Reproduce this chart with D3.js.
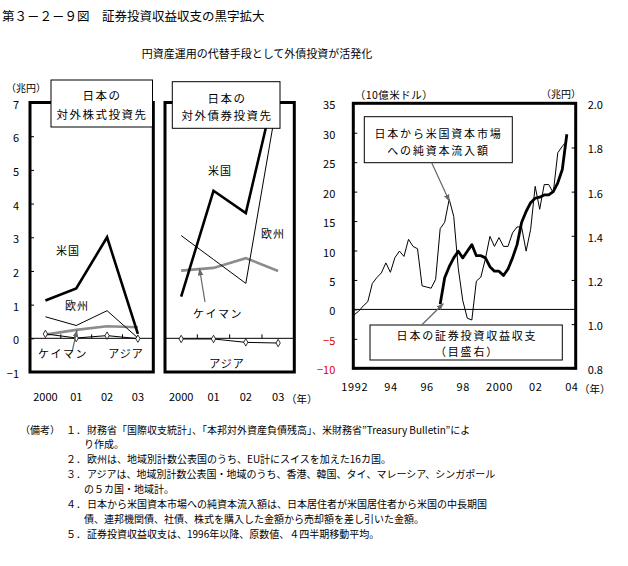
<!DOCTYPE html>
<html>
<head>
<meta charset="utf-8">
<script src="https://cdn.jsdelivr.net/npm/d3@7"></script>
<style>
body { margin: 0; background: #fff; }
text { font-family: "Noto Sans CJK JP", sans-serif; fill: #000; }
</style>
</head>
<body>
<div class="container"></div>
<script>
/* data */
var years = ['2000', '01', '02', '03'];

// 対外株式投資 (兆円)
var stockUS = [1.12, 1.48, 3.0, 0.13];
var stockEU = [0.64, 0.38, 0.82, 0.01];
var stockCayman = [0.11, 0.25, 0.36, 0.33];
var stockAsia = [0.13, 0.01, 0.08, -0.01];

// 対外債券投資 (兆円)
var bondUS = [1.24, 4.38, 3.72, 7.8];
var bondEU = [3.05, 2.34, 1.63, 7.2];
var bondCayman = [2.01, 2.09, 2.38, 2.0];
var bondAsia = [-0.02, -0.02, -0.12, -0.14];

// 日本から米国資本市場への純資本流入額 (10億米ドル), quarterly from 1992Q1
var flowStart = 1992;
var netFlow = [-0.9, -0.3, 0.6, 1.3, 4.4, 5.4, 6.2, 7.9,
               6.3, 8.8, 9.9, 9.0, 11.9, 10.7, 10.3, 4.0,
               3.8, 3.6, 5.1, 13.7, 14.8, 18.7, 15.8, 7.0,
               1.5, -1.5, -1.8, 4.8, 5.5, 8.6, 12.4, 10.7,
               12.2, 10.7, 10.7, 13.0, 14.0, 14.0, 9.9, 13.6,
               20.9, 17.0, 21.2, 21.2, 19.8, 26.6, 27.7, 28.6];

// 日本の証券投資収益収支 (兆円, 目盛右), quarterly from 1996Q4
var incomeStart = 1996.75;
var incomeBal = [1.09, 1.21, 1.26, 1.30, 1.33, 1.30, 1.33, 1.36,
                 1.31, 1.31, 1.30, 1.26, 1.24, 1.24, 1.22, 1.25,
                 1.30, 1.36, 1.46, 1.51, 1.55, 1.57, 1.575, 1.585,
                 1.585, 1.60, 1.64, 1.70, 1.86];

var panelTicks = [-1, 0, 1, 2, 3, 4, 5, 6, 7];
var leftTicks = [-10, -5, 0, 5, 10, 15, 20, 25, 30, 35];
var rightTicks = [0.8, 1.0, 1.2, 1.4, 1.6, 1.8, 2.0];
var yearTicks = [1992, 1994, 1996, 1998, 2000, 2002, 2004];

var notes = [
  ['（備考）', '１．', '財務省「国際収支統計」、「本邦対外資産負債残高」、米財務省”Treasury Bulletin”によ'],
  ['', '', 'り作成。'],
  ['', '２．', '欧州は、地域別計数公表国のうち、EU計にスイスを加えた16カ国。'],
  ['', '３．', 'アジアは、地域別計数公表国・地域のうち、香港、韓国、タイ、マレーシア、シンガポール'],
  ['', '', 'の５カ国・地域計。'],
  ['', '４．', '日本から米国資本市場への純資本流入額は、日本居住者が米国居住者から米国の中長期国'],
  ['', '', '債、連邦機関債、社債、株式を購入した金額から売却額を差し引いた金額。'],
  ['', '５．', '証券投資収益収支は、1996年以降、原数値、４四半期移動平均。']
];

var svg = d3.select('.container')
  .append('svg')
  .attr('width', 628)
  .attr('height', 566);

svg.append('defs').append('marker')
  .attr('id', 'arr')
  .attr('viewBox', '0 0 10 10')
  .attr('refX', 10).attr('refY', 5)
  .attr('markerWidth', 7).attr('markerHeight', 7)
  .attr('markerUnits', 'userSpaceOnUse')
  .attr('orient', 'auto')
  .append('path').attr('d', 'M0,1L10,5L0,9z').attr('fill', '#666');

function label(x, y, t, size, spacing, anchor) {
  return svg.append('text')
    .attr('x', x).attr('y', y)
    .attr('text-anchor', anchor || 'middle')
    .attr('dominant-baseline', 'central')
    .attr('font-size', size)
    .attr('letter-spacing', spacing || 0)
    .text(t);
}

function arrow(x1, y1, x2, y2) {
  svg.append('line')
    .attr('x1', x1).attr('y1', y1).attr('x2', x2).attr('y2', y2)
    .attr('stroke', '#666').attr('stroke-width', 1.2)
    .attr('marker-end', 'url(#arr)');
}

function box(x, y, w, h) {
  svg.append('rect')
    .attr('x', x).attr('y', y).attr('width', w).attr('height', h)
    .attr('fill', '#fff').attr('stroke', '#000').attr('stroke-width', 1);
}

/* titles */
label(2, 15, '第３－２－９図　証券投資収益収支の黒字拡大', 12.5, 0, 'start');
label(257, 53, '円資産運用の代替手段として外債投資が活発化', 11, 0);

/* ---- left two panels ---- */
var yS = d3.scaleLinear().domain([-1, 7]).range([372, 102.5]);
var x1 = d3.scaleBand().domain(years).range([30, 153.3]);
var x2 = d3.scaleBand().domain(years).range([165, 294.3]);

svg.append('clipPath').attr('id', 'clip2')
  .append('rect').attr('x', 165).attr('y', 102.5).attr('width', 129.3).attr('height', 269.5);

function drawPanel(xs, us, eu, cay, asia, clip) {
  var g = svg.append('g');
  if (clip) g.attr('clip-path', 'url(#' + clip + ')');
  var line = d3.line()
    .x(function(d, i) { return xs(years[i]) + xs.bandwidth() / 2; })
    .y(function(d) { return yS(d); });

  // zero line with category ticks
  g.append('line')
    .attr('x1', xs.range()[0]).attr('x2', xs.range()[1])
    .attr('y1', yS(0)).attr('y2', yS(0))
    .attr('stroke', '#000').attr('stroke-width', 1);
  g.selectAll('.ct').data(years.slice(1)).enter().append('line')
    .attr('x1', function(d) { return xs(d); }).attr('x2', function(d) { return xs(d); })
    .attr('y1', yS(0)).attr('y2', yS(0) - 4)
    .attr('stroke', '#000');

  g.append('path').attr('d', line(cay))
    .attr('fill', 'none').attr('stroke', '#8c8c8c').attr('stroke-width', 2.6);
  g.append('path').attr('d', line(eu))
    .attr('fill', 'none').attr('stroke', '#000').attr('stroke-width', 1);
  g.append('path').attr('d', line(us))
    .attr('fill', 'none').attr('stroke', '#000').attr('stroke-width', 2.6);
  g.append('path').attr('d', line(asia))
    .attr('fill', 'none').attr('stroke', '#000').attr('stroke-width', 1);
  g.selectAll('.dm').data(asia).enter().append('path')
    .attr('d', d3.symbol(d3.symbolDiamond).size(16))
    .attr('transform', function(d, i) {
      return 'translate(' + (xs(years[i]) + xs.bandwidth() / 2) + ',' + yS(d) + ')';
    })
    .attr('fill', '#fff').attr('stroke', '#000').attr('stroke-width', 0.8);

  svg.append('rect')
    .attr('x', xs.range()[0]).attr('y', yS(7))
    .attr('width', xs.range()[1] - xs.range()[0]).attr('height', yS(-1) - yS(7))
    .attr('fill', 'none').attr('stroke', '#000').attr('stroke-width', 3);

  var ax = svg.append('g')
    .attr('transform', 'translate(0,' + yS(-1) + ')')
    .call(d3.axisBottom(xs).tickSize(0).tickPadding(21));
  ax.select('.domain').remove();
  ax.selectAll('text').attr('font-size', 11);
  return ax;
}

drawPanel(x1, stockUS, stockEU, stockCayman, stockAsia, null);
drawPanel(x2, bondUS, bondEU, bondCayman, bondAsia, 'clip2');

var ay = svg.append('g')
  .attr('transform', 'translate(30,0)')
  .call(d3.axisLeft(yS).tickValues(panelTicks).tickSize(-4).tickPadding(11));
ay.select('.domain').remove();
ay.selectAll('text').attr('font-size', 11).attr('dy', '0.5em');

label(26, 87, '（兆円）', 10, 0);
label(286, 398, '（年）', 10.5, 0, 'start');

// panel boxes and labels
box(51, 80, 101.5, 47);
label(102, 95, '日本の', 11.5, 1.5);
label(102, 114, '対外株式投資先', 11.5, 1.5);
box(172.3, 81.7, 107.7, 46.6);
label(227, 98, '日本の', 11.5, 1.5);
label(227, 114.5, '対外債券投資先', 11.5, 1.5);

label(68, 250, '米国', 11, 1);
label(77, 305, '欧州', 11, 1);
label(63, 353, 'ケイマン', 11, 1.5);
label(126, 353, 'アジア', 11, 1);
arrow(72.5, 350, 77, 330);

label(220, 170, '米国', 11, 1);
label(273, 233, '欧州', 11, 1);
label(218, 313, 'ケイマン', 11, 1.5);
label(227, 363, 'アジア', 11, 1);
arrow(205, 302, 199.5, 268.5);

/* ---- right panel ---- */
var xR = d3.scaleLinear().domain([1991.95, 2004.24]).range([353.3, 575.7]);
var yL = d3.scaleLinear().domain([-10, 35]).range([368.3, 103.3]);
var yR = d3.scaleLinear().domain([0.8, 2.0]).range([368.3, 103.3]);

svg.append('line')
  .attr('x1', xR.range()[0]).attr('x2', xR.range()[1])
  .attr('y1', yL(0)).attr('y2', yL(0))
  .attr('stroke', '#000').attr('stroke-width', 1);

var flowLine = d3.line()
  .x(function(d, i) { return xR(flowStart + i / 4); })
  .y(function(d) { return yL(d); });
var incomeLine = d3.line()
  .x(function(d, i) { return xR(incomeStart + i / 4); })
  .y(function(d) { return yR(d); });

svg.append('path').attr('d', flowLine(netFlow))
  .attr('fill', 'none').attr('stroke', '#000').attr('stroke-width', 1);
svg.append('path').attr('d', incomeLine(incomeBal))
  .attr('fill', 'none').attr('stroke', '#000').attr('stroke-width', 2.8)
  .attr('stroke-linejoin', 'round');

svg.append('rect')
  .attr('x', 353.3).attr('y', 103.3).attr('width', 222.4).attr('height', 265)
  .attr('fill', 'none').attr('stroke', '#000').attr('stroke-width', 3);

var aL = svg.append('g')
  .attr('transform', 'translate(353.3,0)')
  .call(d3.axisLeft(yL).tickValues(leftTicks).tickSize(-4).tickPadding(18));
aL.select('.domain').remove();
aL.selectAll('text').attr('font-size', 11).attr('dy', '0.5em')
  .style('fill', function(d) { return d < 0 ? '#e00000' : '#000'; });

var aR = svg.append('g')
  .attr('transform', 'translate(575.7,0)')
  .call(d3.axisRight(yR).tickValues(rightTicks).tickFormat(d3.format('.1f')).tickSize(-4).tickPadding(12));
aR.select('.domain').remove();
aR.selectAll('text').attr('font-size', 11).attr('dy', '0.5em');

var aB = svg.append('g')
  .attr('transform', 'translate(0,368.3)')
  .call(d3.axisBottom(xR).tickValues(yearTicks).tickSize(0).tickPadding(15)
    .tickFormat(function(d) { return (d === 1992 || d === 2000) ? String(d) : String(d).slice(2); }));
aB.select('.domain').remove();
aB.selectAll('text').attr('font-size', 11).attr('letter-spacing', 0.6);

label(394, 94, '（10億米ドル）', 10.5, 0.5);
label(561, 93, '（兆円）', 10, 0);
label(579, 388, '（年）', 10.5, 0, 'start');

box(364.3, 116.7, 148, 46);
label(438.5, 133.3, '日本から米国資本市場', 11, 1.8);
label(438.5, 150, 'への純資本流入額', 11, 1.8);
arrow(431.7, 162.7, 449.5, 201.5);

box(370, 325, 192.3, 35);
label(467, 335.3, '日本の証券投資収益収支', 11, 1.8);
label(467, 351, '（目盛右）', 11, 1.8);
arrow(421.7, 325, 443.5, 303.5);

/* ---- notes ---- */
notes.forEach(function(n, i) {
  var y = 429 + i * 14.9;
  if (n[0]) label(20, y, n[0], 10, 0, 'start');
  if (n[1]) label(66, y, n[1], 10, 0, 'start');
  label(n[1] ? 87 : 84, y, n[2], 10, 0, 'start');
});
</script>
</body>
</html>
